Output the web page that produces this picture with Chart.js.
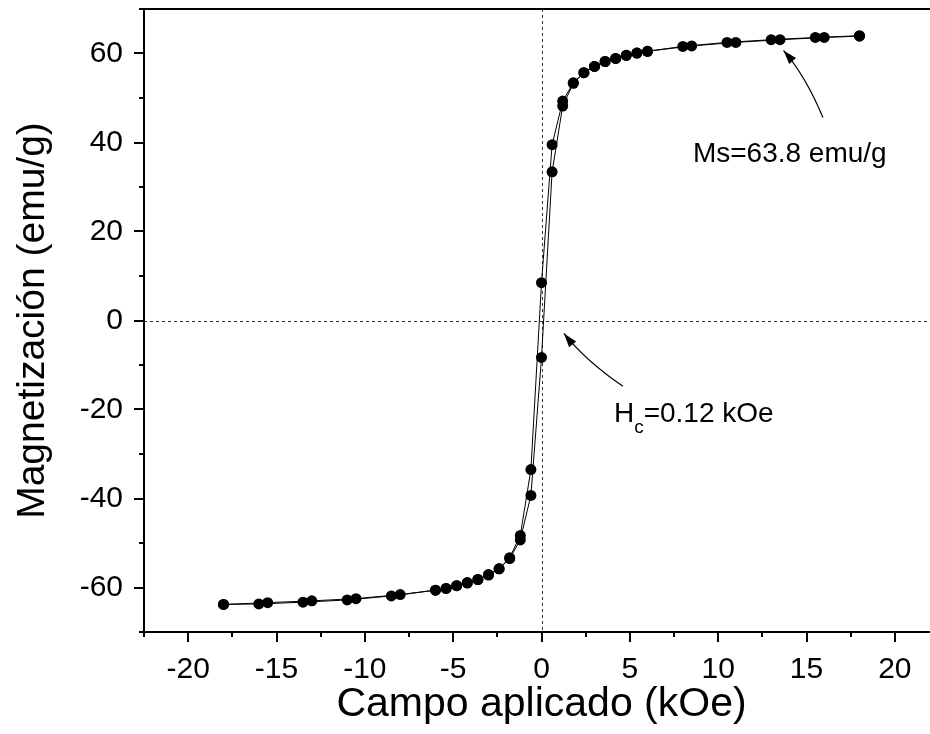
<!DOCTYPE html>
<html lang="es">
<head>
    <meta charset="UTF-8">
    <title>Ciclo de histéresis</title>
    <style>
        html, body { margin: 0; padding: 0; overflow: hidden; background: #fff; }
        canvas { display: block; }
    </style>
</head>
<body>
      <canvas id="myChart" width="940" height="734"></canvas>
      <script src="https://cdn.jsdelivr.net/npm/chart.js"></script>
      <script>
          // rama descendente (de +18 a -18 kOe)
          const fieldDesc = [18, 16, 13.5, 11, 8.5, 6, 5.4, 4.8, 4.2, 3.6, 3.0, 2.4, 1.8, 1.2, 0.6, 0,
                             -0.6, -1.2, -1.8, -2.4, -3.0, -3.6, -4.2, -4.8, -5.4, -6, -8, -10.5, -13, -15.5, -18];
          const magDesc = [63.9, 63.6, 63.1, 62.5, 61.7, 60.5, 60.1, 59.6, 58.9, 58.2, 57.1, 55.7, 53.4, 49.3, 39.5, 8.5,
                           -33.5, -48.3, -53.3, -55.8, -57.1, -58.2, -58.9, -59.6, -60.2, -60.6, -61.6, -62.5, -63.0, -63.4, -63.8];

          // rama ascendente (de -18 a +18 kOe)
          const fieldAsc = [-18, -16, -13.5, -11, -8.5, -6, -5.4, -4.8, -4.2, -3.6, -3.0, -2.4, -1.8, -1.2, -0.6, 0,
                            0.6, 1.2, 1.8, 2.4, 3.0, 3.6, 4.2, 4.8, 5.4, 6, 8, 10.5, 13, 15.5, 18];
          const magAsc = [-63.8, -63.7, -63.3, -62.8, -61.9, -60.6, -60.2, -59.6, -59.0, -58.2, -57.2, -55.8, -53.5, -49.3, -39.3, -8.3,
                          33.4, 48.2, 53.3, 55.7, 57.1, 58.2, 58.9, 59.6, 60.1, 60.5, 61.6, 62.5, 63.1, 63.6, 64.0];

          // anotaciones (en unidades de datos)
          const msText = 'Ms=63.8 emu/g';
          const msTextPos = [8.57, 35.6];
          const msArrow = [[15.93, 45.6], [14.97, 54.8], [13.70, 60.7]];
          const hcTextPos = [4.10, -22.85];
          const hcArrow = [[4.61, -14.8], [2.48, -9.0], [1.27, -2.9]];

          const FONT = "'Liberation Sans', Arial, sans-serif";
          Chart.defaults.font.family = FONT;
          Chart.defaults.color = '#000';

          const toPoints = (xs, ys) => xs.map((v, i) => ({x: v, y: ys[i]}));

          function drawArrow(ctx, sx, sy, pts) {
              const p = pts.map(([vx, vy]) => [sx.getPixelForValue(vx), sy.getPixelForValue(vy)]);
              ctx.beginPath();
              ctx.moveTo(p[0][0], p[0][1]);
              ctx.quadraticCurveTo(p[1][0], p[1][1], p[2][0], p[2][1]);
              ctx.stroke();
              const ang = Math.atan2(p[2][1] - p[1][1], p[2][0] - p[1][0]);
              const L = 14, W = 4.5;
              const bx = p[2][0] - L * Math.cos(ang), by = p[2][1] - L * Math.sin(ang);
              ctx.beginPath();
              ctx.moveTo(p[2][0], p[2][1]);
              ctx.lineTo(bx + W * Math.sin(ang), by - W * Math.cos(ang));
              ctx.lineTo(bx - W * Math.sin(ang), by + W * Math.cos(ang));
              ctx.closePath();
              ctx.fill();
          }

          const frame = {
              id: 'frame',
              beforeDatasetsDraw(chart) {
                  const {ctx, chartArea: a, scales: {x, y}} = chart;
                  ctx.save();
                  ctx.strokeStyle = '#333';
                  ctx.lineWidth = 1;
                  ctx.setLineDash([3, 3]);
                  const x0 = Math.round(x.getPixelForValue(0)) + 0.5;
                  const y0 = Math.round(y.getPixelForValue(0)) + 0.5;
                  ctx.beginPath();
                  ctx.moveTo(x0, a.top); ctx.lineTo(x0, a.bottom);
                  ctx.moveTo(a.left, y0); ctx.lineTo(a.right, y0);
                  ctx.stroke();
                  ctx.restore();
              },
              afterDraw(chart) {
                  const {ctx, chartArea: a, scales: {x, y}} = chart;
                  ctx.save();
                  ctx.strokeStyle = '#000';
                  ctx.fillStyle = '#000';
                  ctx.lineWidth = 2;
                  // borde superior
                  ctx.beginPath();
                  ctx.moveTo(a.left - 1, a.top); ctx.lineTo(a.right, a.top);
                  ctx.stroke();
                  // marcas de los ejes
                  ctx.beginPath();
                  x.ticks.forEach(t => {
                      const px = Math.round(x.getPixelForValue(t.value));
                      const len = t.value % 5 === 0 ? 10 : 5;
                      ctx.moveTo(px, a.bottom); ctx.lineTo(px, a.bottom + len);
                  });
                  y.ticks.forEach(t => {
                      const py = Math.round(y.getPixelForValue(t.value));
                      const len = t.value % 20 === 0 ? 10 : 5;
                      ctx.moveTo(a.left, py); ctx.lineTo(a.left - len, py);
                  });
                  ctx.stroke();

                  // flechas
                  ctx.lineWidth = 1.2;
                  drawArrow(ctx, x, y, msArrow);
                  drawArrow(ctx, x, y, hcArrow);

                  // textos
                  ctx.textBaseline = 'alphabetic';
                  ctx.textAlign = 'left';
                  ctx.font = '28px ' + FONT;
                  ctx.fillText(msText, x.getPixelForValue(msTextPos[0]), y.getPixelForValue(msTextPos[1]));

                  let hx = x.getPixelForValue(hcTextPos[0]);
                  const hy = y.getPixelForValue(hcTextPos[1]);
                  ctx.fillText('H', hx, hy);
                  hx += ctx.measureText('H').width;
                  ctx.font = '19px ' + FONT;
                  ctx.fillText('c', hx, hy + 11);
                  hx += ctx.measureText('c').width;
                  ctx.font = '28px ' + FONT;
                  ctx.fillText('=0.12 kOe', hx, hy);
                  ctx.restore();
              }
          };

          const ctx = document.querySelector('#myChart').getContext('2d');
          const lineStyle = {
              borderColor: '#000',
              borderWidth: 1,
              backgroundColor: '#000',
              pointBackgroundColor: '#000',
              pointBorderColor: '#000',
              pointRadius: 5.5,
              pointHoverRadius: 5.5,
              pointBorderWidth: 0,
              tension: 0,
              fill: false
          };

          new Chart(ctx, {
              type: 'line',
              data: {
                  datasets: [
                      Object.assign({label: 'descendente', data: toPoints(fieldDesc, magDesc)}, lineStyle),
                      Object.assign({label: 'ascendente', data: toPoints(fieldAsc, magAsc)}, lineStyle)
                  ]
              },
              options: {
                  responsive: false,
                  animation: false,
                  layout: { autoPadding: false, padding: { top: 9, right: 1, bottom: 0, left: 0 } },
                  plugins: { legend: { display: false }, tooltip: { enabled: false } },
                  scales: {
                      x: {
                          type: 'linear',
                          min: -22.5,
                          max: 22.5,
                          grid: { display: false, drawTicks: false },
                          border: { display: true, color: '#000', width: 2 },
                          ticks: {
                              stepSize: 2.5,
                              autoSkip: false,
                              maxRotation: 0,
                              padding: 20,
                              font: { size: 30 },
                              color: '#000',
                              callback: v => (v % 5 === 0 ? String(v) : '')
                          },
                          title: {
                              display: true,
                              text: 'Campo aplicado (kOe)',
                              font: { size: 41 },
                              color: '#000',
                              padding: { top: 0, bottom: 5 }
                          },
                          afterFit(s) { s.height = 102; s.paddingLeft = 0; s.paddingRight = 0; }
                      },
                      y: {
                          min: -70,
                          max: 70,
                          grid: { display: false, drawTicks: false },
                          border: { display: true, color: '#000', width: 2 },
                          ticks: {
                              stepSize: 10,
                              autoSkip: false,
                              padding: 21,
                              font: { size: 30 },
                              color: '#000',
                              callback: v => (v % 20 === 0 ? String(v) : '')
                          },
                          title: {
                              display: true,
                              text: 'Magnetización (emu/g)',
                              font: { size: 39 },
                              color: '#000',
                              padding: { top: 10, bottom: 0 }
                          },
                          afterFit(s) { s.width = 144; s.paddingTop = 0; s.paddingBottom = 0; }
                      }
                  }
              },
              plugins: [frame]
          });
      </script>
</body>
</html>
